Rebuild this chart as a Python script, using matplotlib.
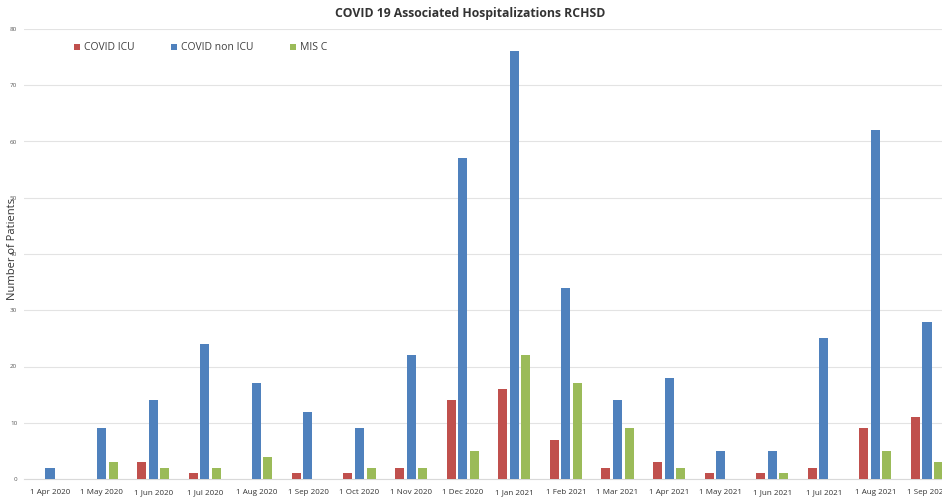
import matplotlib
matplotlib.use("Agg")
import matplotlib.pyplot as plt
import numpy as np

months = ["1 Apr 2020", "1 May 2020", "1 Jun 2020", "1 Jul 2020", "1 Aug 2020",
          "1 Sep 2020", "1 Oct 2020", "1 Nov 2020", "1 Dec 2020", "1 Jan 2021",
          "1 Feb 2021", "1 Mar 2021", "1 Apr 2021", "1 May 2021", "1 Jun 2021",
          "1 Jul 2021", "1 Aug 2021", "1 Sep 2021"]
covid_icu = [0, 0, 3, 1, 0, 1, 1, 2, 14, 16, 7, 2, 3, 1, 1, 2, 9, 11]
covid_non_icu = [2, 9, 14, 24, 17, 12, 9, 22, 57, 76, 34, 14, 18, 5, 5, 25, 62, 28]
mis_c = [0, 3, 2, 2, 4, 0, 2, 2, 5, 22, 17, 9, 2, 0, 1, 0, 5, 3]
y_ticks = [0, 10, 20, 30, 40, 50, 60, 70, 80]

plt.rcParams['font.family'] = ['Open Sans', 'DejaVu Sans']

fig = plt.figure(figsize=(9.42, 4.98), dpi=100)
W, H = 942, 498
left_px, right_px = 24.2, 952.8
bottom_px, top_px = 479, 29
ax = fig.add_axes([left_px / W, 1 - bottom_px / H,
                   (right_px - left_px) / W, (bottom_px - top_px) / H])

x = np.arange(len(months))
bw = 0.175
off = 0.224
c_red, c_blue, c_green = "#C0504D", "#4F81BD", "#9BBB59"
ax.bar(x - off, covid_icu, bw, color=c_red, label="COVID ICU", zorder=3)
ax.bar(x, covid_non_icu, bw, color=c_blue, label="COVID non ICU", zorder=3)
ax.bar(x + off, mis_c, bw, color=c_green, label="MIS C", zorder=3)

ax.set_xlim(-0.5, len(months) - 0.5)
ax.set_ylim(0, 80)
ax.set_yticks(y_ticks)
ax.set_yticklabels([str(v) for v in y_ticks], fontsize=4.5, color="#595959")
ax.set_xticks(x)
ax.set_xticklabels(months, fontsize=5.8, color="#333333")
for lbl in ax.get_xticklabels():
    lbl.set_verticalalignment("baseline")
ax.tick_params(axis="x", length=0, pad=11)
ax.tick_params(axis="y", length=0, pad=5)
ax.grid(axis="y", color="#e3e3e3", linewidth=0.8, zorder=0)
for s in ["top", "right", "left"]:
    ax.spines[s].set_visible(False)
ax.spines["bottom"].set_color("#d9d9d9")
ax.spines["bottom"].set_linewidth(0.8)

ax.set_ylabel("Number of Patients", fontsize=8, color="#333333")
ax.yaxis.set_label_coords(-6 / (right_px - left_px), 0.51)

fig.text(470 / W, 1 - 13 / H, "COVID 19 Associated Hospitalizations RCHSD",
         ha="center", va="center", fontsize=8.8, fontweight="bold", color="#333333")

fig.legend(loc="center left", bbox_to_anchor=(74 / W, 1 - 48 / H), ncol=3,
           frameon=False, fontsize=7.5, handlelength=0.55, handleheight=0.55,
           handletextpad=0.4, columnspacing=3.5, labelcolor="#404040",
           borderaxespad=0, borderpad=0)

fig.savefig("out.png", dpi=100)
